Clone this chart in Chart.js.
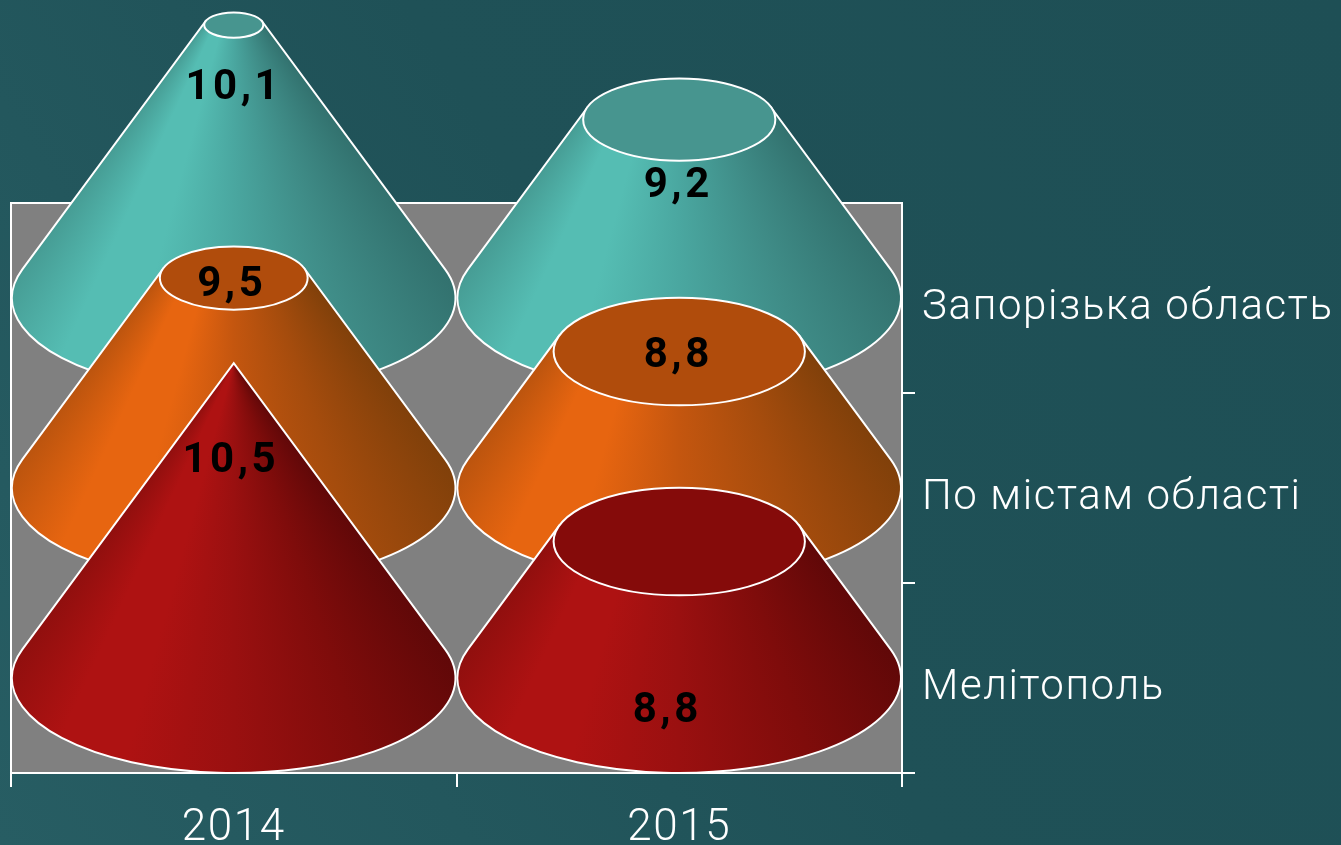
<!DOCTYPE html>
<html>
<head>
<meta charset="utf-8">
<title>Конуси</title>
<script src="https://cdn.jsdelivr.net/npm/chart.js@4"></script>
<style>
    html, body { margin: 0; padding: 0; background: #1f5057; }
    canvas { display: block; }
</style>
</head>
<body>
<canvas id="coneChart" width="1341" height="845"></canvas>
<script>
    const years = ["2014", "2015"];
    const regions = ["Запорізька область", "По містам області", "Мелітополь"];
    const zaporizhzhia = [10.1, 9.2];
    const cities = [9.5, 8.8];
    const melitopol = [10.5, 8.8];

    // hidden value axis: 7.5 is the level of a cone base, 10.5 is a full cone
    const baseValue = 7.5;
    const topValue = 12.93;
    const apexValue = 10.5;

    // colours: right edge, right middle, middle, highlight, left edge, top cap
    const teal = ["#32716e", "#3f8c87", "#4aa7a0", "#55bdb3", "#469c94", "#47958f"];
    const orange = ["#80400a", "#a54c0d", "#c4560f", "#e76510", "#bb540e", "#b04c0c"];
    const red = ["#600808", "#7f0c0b", "#9a1010", "#ae1212", "#900f0e", "#850b0a"];
    const seriesColors = [teal, orange, red];

    // where each number sits, relative to the centre of the cone top
    const labelShift = [
        [[0, 63], [-1, 67]],
        [[-2, 7], [-1, 5]],
        [[-3, 98], [-12, 170]]
    ];

    const conePlugin = {
        id: "cones",
        beforeDraw(chart) {
            const { ctx, width, height, chartArea: a } = chart;
            const bg = ctx.createLinearGradient(width, 0, 0, height);
            bg.addColorStop(0, "#1e4f55");
            bg.addColorStop(0.5, "#1f5157");
            bg.addColorStop(1, "#275d63");
            ctx.fillStyle = bg;
            ctx.fillRect(0, 0, width, height);
            ctx.fillStyle = "#808080";
            ctx.fillRect(a.left, a.top, a.right - a.left, a.bottom - a.top);
            ctx.letterSpacing = "1.6px";
        },
        afterDatasetsDraw(chart) {
            const { ctx, scales } = chart;
            ctx.save();
            ctx.strokeStyle = "#fff";
            ctx.lineWidth = 2;
            ctx.strokeRect(chart.chartArea.left, chart.chartArea.top,
                chart.chartArea.right - chart.chartArea.left, chart.chartArea.bottom - chart.chartArea.top);

            const rx = scales.x.width / years.length / 2 - 1;
            const ry = scales.rows.height / regions.length / 2;
            const fullH = scales.h.getPixelForValue(baseValue) - scales.h.getPixelForValue(apexValue);
            const tangent = Math.asin(ry / fullH);
            const tx = rx * Math.cos(tangent), ty = ry * Math.sin(tangent);
            const edge = Math.atan(tx / (fullH - ty));

            chart.data.datasets.forEach((ds, r) => {
                const by = scales.rows.getPixelForValue(r);
                ds.data.forEach((v, i) => {
                    const cx = scales.x.getPixelForValue(i);
                    const h = scales.h.getPixelForValue(baseValue) - scales.h.getPixelForValue(v);
                    const k = Math.max(0, 1 - h / fullH);
                    const topY = by - h;
                    const c = seriesColors[r];

                    const grad = ctx.createConicGradient(0, cx, by - fullH);
                    const turn = a => a / (2 * Math.PI);
                    const down = Math.PI / 2;
                    grad.addColorStop(turn(down - edge), c[0]);
                    grad.addColorStop(turn(down - edge * 0.5), c[1]);
                    grad.addColorStop(turn(down), c[2]);
                    grad.addColorStop(turn(down + edge * 0.42), c[3]);
                    grad.addColorStop(turn(down + edge * 0.68), c[3]);
                    grad.addColorStop(turn(down + edge), c[4]);

                    ctx.beginPath();
                    ctx.ellipse(cx, by, rx, ry, 0, -tangent, Math.PI + tangent);
                    ctx.lineTo(cx - k * tx, topY - k * ty);
                    ctx.lineTo(cx + k * tx, topY - k * ty);
                    ctx.closePath();
                    ctx.fillStyle = grad;
                    ctx.fill();
                    ctx.stroke();

                    if (k > 0) {
                        ctx.beginPath();
                        ctx.ellipse(cx, topY, rx * k, ry * k, 0, 0, 2 * Math.PI);
                        ctx.fillStyle = c[5];
                        ctx.fill();
                        ctx.stroke();
                    }
                });
            });

            // numbers go on top of all cones
            ctx.fillStyle = "#000";
            ctx.font = "bold 42px Roboto";
            ctx.letterSpacing = "3.5px";
            ctx.textAlign = "center";
            ctx.textBaseline = "middle";
            chart.data.datasets.forEach((ds, r) => {
                const by = scales.rows.getPixelForValue(r);
                ds.data.forEach((v, i) => {
                    const h = scales.h.getPixelForValue(baseValue) - scales.h.getPixelForValue(v);
                    const shift = labelShift[r][i];
                    ctx.fillText(String(v).replace(".", ","),
                        scales.x.getPixelForValue(i) + shift[0], by - h + shift[1]);
                });
            });
            ctx.restore();
        }
    };

    new Chart(document.getElementById("coneChart"), {
        type: "bar",
        data: {
            labels: years,
            datasets: [
                { label: regions[0], data: zaporizhzhia, yAxisID: "h", backgroundColor: "transparent" },
                { label: regions[1], data: cities, yAxisID: "h", backgroundColor: "transparent" },
                { label: regions[2], data: melitopol, yAxisID: "h", backgroundColor: "transparent" }
            ]
        },
        options: {
            responsive: false,
            animation: false,
            layout: { padding: { left: 11, top: 203, right: 0, bottom: 0 } },
            plugins: { legend: { display: false }, tooltip: { enabled: false } },
            scales: {
                x: {
                    afterFit: s => { s.height = 72; },
                    grid: { drawOnChartArea: false, color: "#fff", lineWidth: 2, tickLength: 14, offset: true },
                    border: { color: "#fff", width: 2 },
                    ticks: { color: "#fff", font: { family: "Roboto", size: 44, weight: "300" }, padding: 16, maxRotation: 0 }
                },
                rows: {
                    type: "category",
                    labels: regions,
                    position: "right",
                    offset: true,
                    afterFit: s => { s.width = 439; },
                    grid: {
                        drawOnChartArea: false,
                        offset: true,
                        lineWidth: 2,
                        tickLength: 13,
                        tickColor: c => (c.index === 0 ? "transparent" : "#fff")
                    },
                    border: { color: "#fff", width: 2 },
                    ticks: {
                        color: "#fff",
                        // empty first line pushes the text down by half a line height
                        callback: v => ["", regions[v]],
                        font: { family: "Roboto", size: 42, weight: "300", lineHeight: "21px" },
                        padding: 7,
                        autoSkip: false
                    }
                },
                h: { type: "linear", display: false, min: baseValue, max: topValue }
            }
        },
        plugins: [conePlugin]
    });
</script>
</body>
</html>
